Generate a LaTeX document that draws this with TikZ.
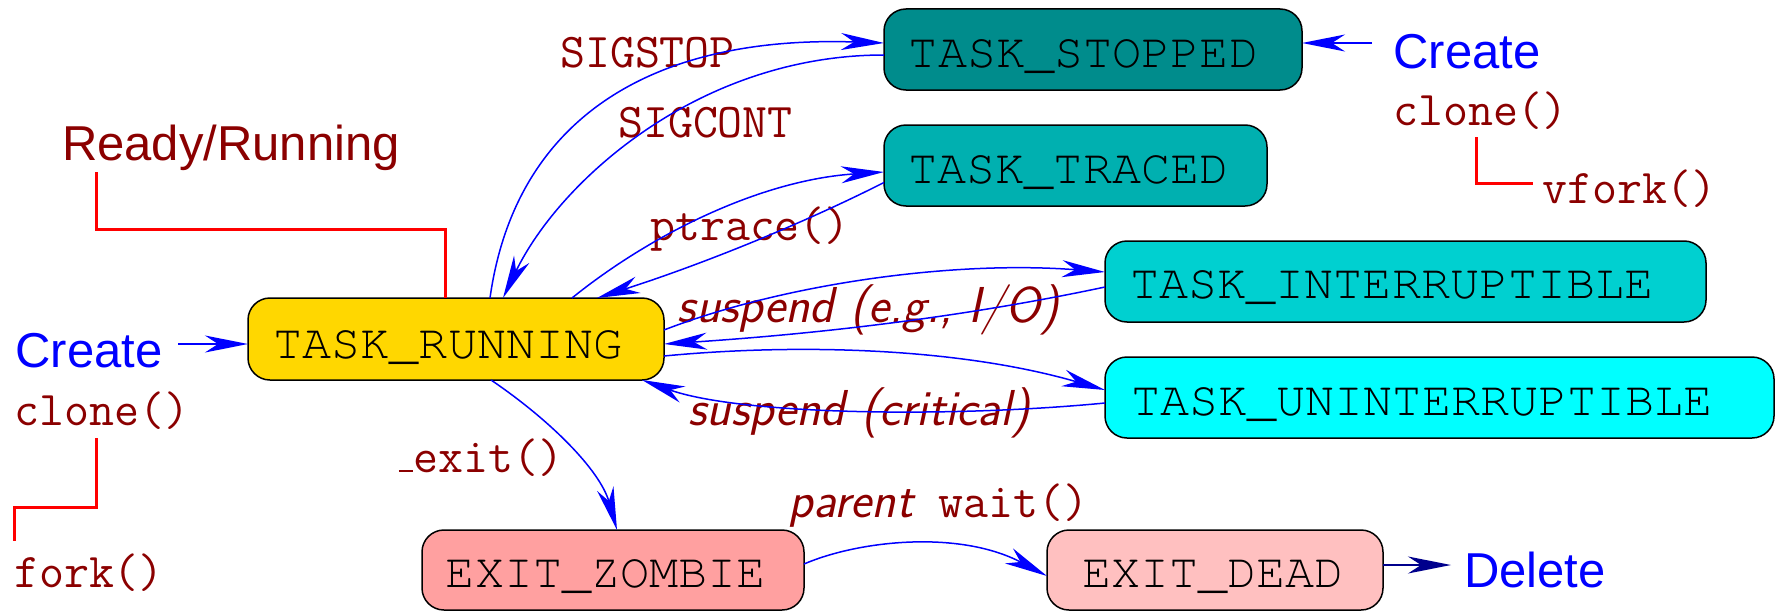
\documentclass[tikz,border=0pt]{standalone}
\usepackage{fontspec}
\newfontfamily\boxfont{texgyrecursor-regular.otf}
\newfontfamily\helv{Liberation Sans}
\usetikzlibrary{arrows.meta,calc}
\definecolor{dred}{RGB}{139,0,0}
\definecolor{cstop}{RGB}{0,140,140}
\definecolor{ctrace}{RGB}{0,176,176}
\definecolor{cint}{RGB}{0,208,208}
\definecolor{cunint}{RGB}{0,255,255}
\definecolor{crun}{RGB}{255,215,0}
\definecolor{czomb}{RGB}{255,160,160}
\definecolor{cdead}{RGB}{255,192,192}
\definecolor{navyb}{RGB}{0,0,140}
\tikzset{
  stbox/.style={draw=black, line width=1.5pt, rounded corners=22pt, inner sep=0pt, outer sep=0pt},
  boxtxt/.style={anchor=base, inner sep=0pt, font=\boxfont\fontsize{48.5}{50}\selectfont},
  lbl/.style={anchor=base, inner sep=0pt, text=dred, font=\ttfamily\fontsize{48.5}{50}\selectfont},
  ilbl/.style={anchor=base, inner sep=0pt, text=dred, font=\sffamily\itshape\fontsize{50.5}{52}\selectfont},
  hlbl/.style={anchor=base, inner sep=0pt, font=\helv\fontsize{49}{52}\selectfont},
  tip/.style={-{Stealth[length=43pt,width=17pt,inset=13pt]}},
  conn/.style={blue, line width=1.5pt, tip},
  redl/.style={red, line width=3pt},
}
\begin{document}
\begin{tikzpicture}[x=1pt,y=-1pt]
\useasboundingbox (0,0) rectangle (1776,610);
% state boxes
\node[stbox, fill=cstop, minimum width=418pt, minimum height=81pt] (stop) at (1093,49.5) {};
\node[stbox, fill=ctrace, minimum width=383pt, minimum height=81pt] (trace) at (1075.5,165.5) {};
\node[stbox, fill=cint, minimum width=601pt, minimum height=81pt] (int) at (1405.5,281.5) {};
\node[stbox, fill=cunint, minimum width=669pt, minimum height=81pt] (unint) at (1439.5,397.5) {};
\node[stbox, fill=crun, minimum width=416pt, minimum height=82pt] (run) at (456,339) {};
\node[stbox, fill=czomb, minimum width=382pt, minimum height=80pt] (zomb) at (613,570) {};
\node[stbox, fill=cdead, minimum width=336pt, minimum height=80pt] (dead) at (1215,570) {};
% box texts
\node[boxtxt] (stopt) at (1083.5,67) {TASK\_STOPPED};
\node[boxtxt] (tracet) at (1068.5,183) {TASK\_TRACED};
\node[boxtxt] (intt) at (1392,298) {TASK\_INTERRUPTIBLE};
\node[boxtxt] (unintt) at (1422,415) {TASK\_UNINTERRUPTIBLE};
\node[boxtxt] (runt) at (448,358) {TASK\_RUNNING};
\node[boxtxt] (zombt) at (606,587) {EXIT\_ZOMBIE};
\node[boxtxt] (deadt) at (1213,587) {EXIT\_DEAD};
% free labels
\node[hlbl, text=dred] (ready) at (231,160) {Ready/Running};
\node[hlbl, text=blue] (createL) at (89,367) {Create};
\node[lbl] (cloneL) at (102,425) {clone()};
\node[lbl] (fork) at (89,587) {fork()};
\node[hlbl, text=blue] (createR) at (1467,68) {Create};
\node[lbl] (cloneR) at (1480.5,125) {clone()};
\node[lbl] (vfork) at (1629.5,203) {vfork()};
\node[hlbl, text=blue] (delete) at (1535,587) {Delete};
% edge labels
\node[lbl] (lstop) at (647.5,67) {SIGSTOP};
\node[lbl] (lcont) at (705.5,137) {SIGCONT};
\node[lbl] (lptr) at (750,240) {ptrace()};
\node[ilbl] (lio) at (868.5,322) {suspend (e.g., I/O)};
\node[ilbl] (lcrit) at (859.5,425) {suspend (critical)};
\node[lbl] (lexit) at (481,472) {\rule{0.3em}{0.05em}exit()};
\node[lbl] (lwait) at (938.5,517) {{\sffamily\itshape\fontsize{50.5}{52}\selectfont parent} wait()};
% red leader lines
\coordinate (r1) at (96,172);
\coordinate (r2) at (96,438);
\coordinate (r3) at (14,541);
\coordinate (r4) at (1476,137);
\coordinate (r5) at (1533,183);
\draw[redl] (r1) -- (96,229) -- (445,229) -- ($(run.north west)+(197,0)$);
\draw[redl] (r2) -- (96,507) -- (14,507) -- (r3);
\draw[redl] (r4) -- (1476,183) -- (r5);
% connectors
\draw[conn] ($(run.north west)+(242,0)$) .. controls (515,120) and (650,35) .. ($(stop.west)+(0,-6.5)$);
\draw[conn] ($(stop.west)+(0,5.5)$) .. controls (700,55) and (560,180) .. ($(run.north west)+(255,0)$);
\draw[conn] ($(run.north west)+(324,0)$) .. controls (650,235) and (760,180) .. ($(trace.west)+(0,6.5)$);
\draw[conn] ($(trace.west)+(0,17)$) .. controls (800,225) and (700,265) .. ($(run.north west)+(349,0)$);
\draw[conn] ($(run.east)+(0,-9)$) .. controls (780,285) and (950,260) .. ($(int.west)+(0,-9.5)$);
\draw[conn] ($(int.west)+(0,5.5)$) .. controls (950,320) and (800,335) .. ($(run.east)+(0,5)$);
\draw[conn] ($(run.east)+(0,17)$) .. controls (800,343) and (960,348) .. ($(unint.west)+(0,-7.5)$);
\draw[conn] ($(unint.west)+(0,5.5)$) .. controls (950,418) and (740,415) .. ($(run.south east)+(-22,0)$);
\draw[conn] ($(run.south west)+(243,0)$) .. controls (550,420) and (600,470) .. ($(zomb.north west)+(195,0)$);
\draw[conn] ($(zomb.east)+(0,-6)$) .. controls (860,540) and (960,530) .. ($(dead.west)+(0,6)$);
\coordinate (cr) at (1372,43);
\coordinate (cl) at (178,344);
\draw[conn, line width=2pt] (cr) -- ($(stop.east)+(0,-6.5)$);
\draw[conn, line width=2pt] (cl) -- ($(run.west)+(0,5)$);
\coordinate (dl) at (1451,565);
\draw[navyb, line width=2pt, -{Stealth[length=43pt,width=17pt,inset=13pt]}] ($(dead.east)+(0,-5)$) -- (dl);
\end{tikzpicture}
\end{document}
